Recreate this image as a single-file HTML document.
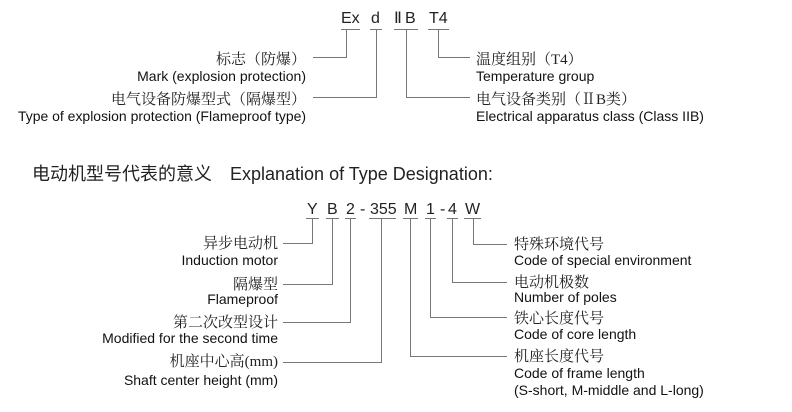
<!DOCTYPE html>
<html><head><meta charset="utf-8"><style>
html,body{margin:0;padding:0;background:#fff;}
svg{display:block}
.e{font-family:"Liberation Sans",sans-serif;font-size:14px;fill:#111}
.c{font-family:"Liberation Serif","Noto Serif CJK SC",serif;font-size:15px;fill:#222}
.k{font-family:"Liberation Sans",sans-serif;font-size:16px;fill:#222}
.h{font-family:"Liberation Sans","Noto Sans CJK SC",sans-serif;font-size:18px;fill:#222}
line,polyline{stroke:#777;stroke-width:1;fill:none}
</style></head><body>
<svg width="792" height="412" viewBox="0 0 792 412">
<text class="k" x="341" y="23">Ex</text>
<text class="k" x="371" y="23">d</text>
<text class="k" x="394" y="23" font-family="Liberation Serif">Ⅱ</text>
<text class="k" x="405" y="23">B</text>
<text class="k" x="429" y="23">T4</text>
<line x1="341" y1="29.5" x2="360" y2="29.5"/>
<line x1="370" y1="29.5" x2="382" y2="29.5"/>
<line x1="394" y1="29.5" x2="418" y2="29.5"/>
<line x1="428" y1="29.5" x2="449" y2="29.5"/>
<polyline points="346.5,30 346.5,57.5 313,57.5"/>
<polyline points="376.5,30 376.5,97.5 313,97.5"/>
<polyline points="406.5,30 406.5,97.5 470,97.5"/>
<polyline points="438.5,30 438.5,57.5 470,57.5"/>
<text class="c" x="306" y="64" text-anchor="end">标志（防爆）</text>
<text class="e" x="306" y="81" text-anchor="end">Mark (explosion protection)</text>
<text class="c" x="306" y="104" text-anchor="end">电气设备防爆型式（隔爆型）</text>
<text class="e" x="306" y="121" text-anchor="end" textLength="288" lengthAdjust="spacingAndGlyphs">Type of explosion protection (Flameproof type)</text>
<text class="c" x="476" y="64">温度组别（T4）</text>
<text class="e" x="476" y="81">Temperature group</text>
<text class="c" x="476" y="104">电气设备类别（ⅡB类）</text>
<text class="e" x="476" y="121">Electrical apparatus class (Class IIB)</text>
<text class="h" x="32" y="180">电动机型号代表的意义　Explanation of Type Designation:</text>
<text class="k" x="307" y="214">Y</text>
<text class="k" x="327" y="214">B</text>
<text class="k" x="346" y="214">2</text>
<text class="k" x="360" y="214">-</text>
<text class="k" x="370" y="214">355</text>
<text class="k" x="404" y="214">M</text>
<text class="k" x="426" y="214">1</text>
<text class="k" x="440" y="214">-</text>
<text class="k" x="448" y="214">4</text>
<text class="k" x="465" y="214">W</text>
<line x1="306" y1="218.5" x2="319" y2="218.5"/>
<line x1="326" y1="218.5" x2="339" y2="218.5"/>
<line x1="345" y1="218.5" x2="356" y2="218.5"/>
<line x1="369" y1="218.5" x2="396" y2="218.5"/>
<line x1="403" y1="218.5" x2="418" y2="218.5"/>
<line x1="425" y1="218.5" x2="436" y2="218.5"/>
<line x1="447" y1="218.5" x2="458" y2="218.5"/>
<line x1="464" y1="218.5" x2="481" y2="218.5"/>
<polyline points="312.5,219 312.5,243.5 283,243.5"/>
<polyline points="332.5,219 332.5,284.5 283,284.5"/>
<polyline points="350.5,219 350.5,322.5 283,322.5"/>
<polyline points="381.5,219 381.5,362.5 283,362.5"/>
<polyline points="410.5,219 410.5,356.5 507,356.5"/>
<polyline points="430.5,219 430.5,317.5 507,317.5"/>
<polyline points="452.5,219 452.5,282.5 507,282.5"/>
<polyline points="473.5,219 473.5,244.5 507,244.5"/>
<text class="c" x="278" y="248" text-anchor="end">异步电动机</text>
<text class="e" x="278" y="265" text-anchor="end">Induction motor</text>
<text class="c" x="278" y="289" text-anchor="end">隔爆型</text>
<text class="e" x="278" y="304" text-anchor="end">Flameproof</text>
<text class="c" x="278" y="327" text-anchor="end">第二次改型设计</text>
<text class="e" x="278" y="343" text-anchor="end">Modified for the second time</text>
<text class="c" x="278" y="366" text-anchor="end">机座中心高(mm)</text>
<text class="e" x="278" y="385" text-anchor="end">Shaft center height (mm)</text>
<text class="c" x="514" y="249">特殊环境代号</text>
<text class="e" x="514" y="265">Code of special environment</text>
<text class="c" x="514" y="287">电动机极数</text>
<text class="e" x="514" y="302">Number of poles</text>
<text class="c" x="514" y="323">铁心长度代号</text>
<text class="e" x="514" y="339">Code of core length</text>
<text class="c" x="514" y="361">机座长度代号</text>
<text class="e" x="514" y="378">Code of frame length</text>
<text class="e" x="514" y="395">(S-short, M-middle and L-long)</text>
</svg>
</body></html>
